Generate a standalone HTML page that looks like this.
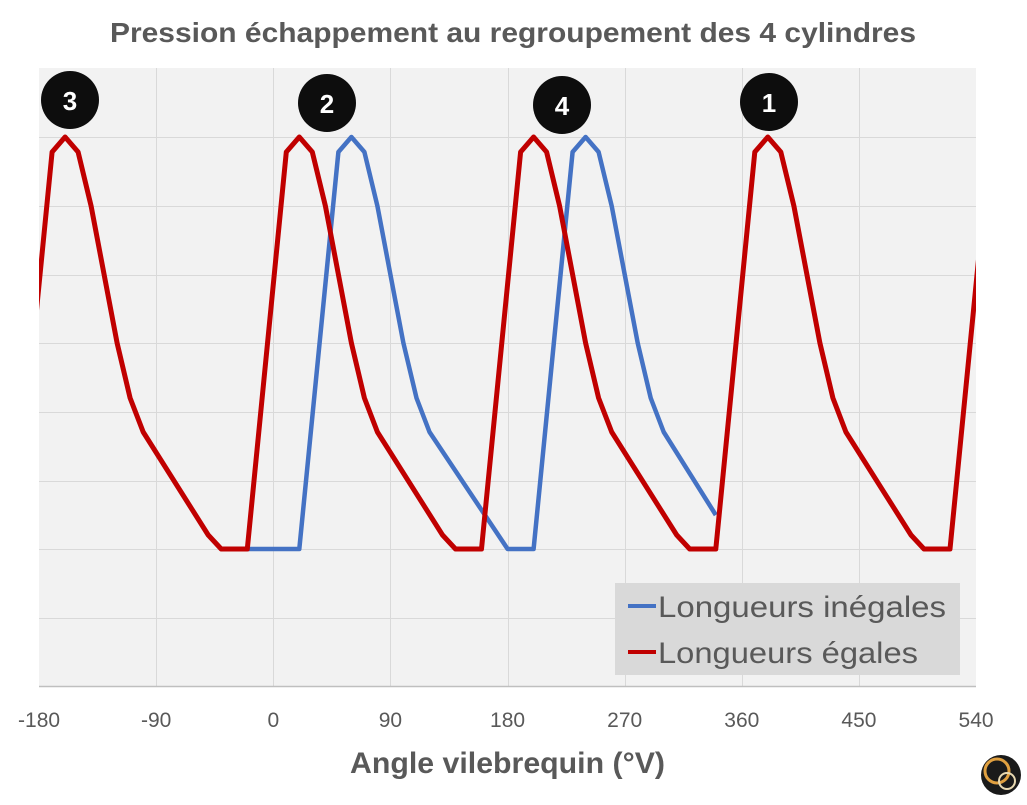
<!DOCTYPE html>
<html><head><meta charset="utf-8"><style>
body{margin:0;background:#fff;}
svg text{font-family:"Liberation Sans","DejaVu Sans",sans-serif;}
</style></head><body>
<svg id="s" width="1027" height="800" xmlns="http://www.w3.org/2000/svg">
<rect width="1027" height="800" fill="#fff"/>
<text x="110" y="42" textLength="806" lengthAdjust="spacingAndGlyphs" font-size="28" font-weight="bold" fill="#595959">Pression échappement au regroupement des 4 cylindres</text>
<rect x="39" y="68" width="937" height="618" fill="#f2f2f2"/>
<g id="grid" stroke="#d9d9d9" stroke-width="1"></g>
<line x1="39" y1="686.5" x2="976" y2="686.5" stroke="#bfbfbf" stroke-width="1.5"/>
<defs><clipPath id="c"><rect x="39" y="60" width="937" height="630"/></clipPath></defs>
<g clip-path="url(#c)">
<polyline id="blue" fill="none" stroke="#4472c4" stroke-width="4.5" stroke-linejoin="round"/>
<polyline id="red" fill="none" stroke="#c00000" stroke-width="5" stroke-linejoin="round"/>
</g>
<g id="ticks" font-size="21" fill="#595959" text-anchor="middle"></g>
<text x="350" y="773" textLength="315" lengthAdjust="spacingAndGlyphs" font-size="30" font-weight="bold" fill="#595959">Angle vilebrequin (°V)</text>
<rect x="615" y="583" width="345" height="92" fill="#d9d9d9"/>
<line x1="628" y1="606" x2="656" y2="606" stroke="#4472c4" stroke-width="4"/>
<text x="658" y="617" textLength="288" lengthAdjust="spacingAndGlyphs" font-size="30" fill="#595959">Longueurs inégales</text>
<line x1="628" y1="652" x2="656" y2="652" stroke="#c00000" stroke-width="4"/>
<text x="658" y="663" textLength="260" lengthAdjust="spacingAndGlyphs" font-size="30" fill="#595959">Longueurs égales</text>
<g font-size="26" font-weight="bold" fill="#fff" text-anchor="middle">
<circle cx="70" cy="100" r="29" fill="#0d0d0d"/><text x="70" y="110">3</text>
<circle cx="327" cy="103" r="29" fill="#0d0d0d"/><text x="327" y="113">2</text>
<circle cx="562" cy="105" r="29" fill="#0d0d0d"/><text x="562" y="115">4</text>
<circle cx="769" cy="102" r="29" fill="#0d0d0d"/><text x="769" y="112">1</text>
</g>
<circle cx="1001" cy="775" r="20" fill="#1a1a1a"/>
<circle cx="997" cy="771" r="12" fill="none" stroke="#e0a040" stroke-width="3"/>
<circle cx="1007" cy="781" r="8" fill="none" stroke="#e8d8b0" stroke-width="2"/>
</svg>
<script>
var X=function(d){return 273.3+d*1.3014;};
var ns="http://www.w3.org/2000/svg";
var g=document.getElementById('grid');
[137,206,275,343,412,481,549,618].forEach(function(y){var l=document.createElementNS(ns,'line');l.setAttribute('x1',39);l.setAttribute('x2',976);l.setAttribute('y1',y+.5);l.setAttribute('y2',y+.5);g.appendChild(l);});
[-90,0,90,180,270,360,450].forEach(function(d){var l=document.createElementNS(ns,'line');var x=Math.round(X(d))+.5;l.setAttribute('x1',x);l.setAttribute('x2',x);l.setAttribute('y1',68);l.setAttribute('y2',686);g.appendChild(l);});
var t=document.getElementById('ticks');
[-180,-90,0,90,180,270,360,450,540].forEach(function(d){var e=document.createElementNS(ns,'text');e.setAttribute('x',X(d));e.setAttribute('y',727);e.textContent=d;t.appendChild(e);});
var rp=[[-40,549],[-10,152],[0,137],[10,152],[20,206],[40,343],[50,398],[60,432],[110,535],[120,549]];
var pts=[];[-160,20,200,380,560].forEach(function(p){rp.forEach(function(q){pts.push(X(p+q[0]).toFixed(1)+','+q[1]);});});
document.getElementById('red').setAttribute('points',pts.join(' '));
var b=[[-20,549],[20,549],[50,152],[60,137],[70,152],[80,206],[100,343],[110,398],[120,432],[180,549],[200,549],[230,152],[240,137],[250,152],[260,206],[280,343],[290,398],[300,432],[340,515]];
document.getElementById('blue').setAttribute('points',b.map(function(q){return X(q[0]).toFixed(1)+','+q[1];}).join(' '));
</script>
</body></html>
